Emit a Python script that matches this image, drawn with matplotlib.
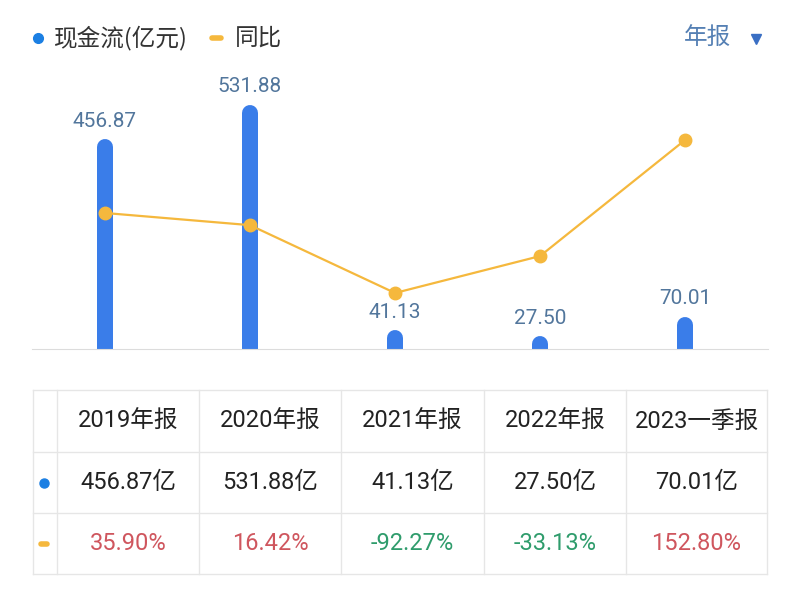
import matplotlib.pyplot as plt

plt.rcParams['font.family'] = ['Roboto', 'Noto Sans CJK SC', 'DejaVu Sans']

# data
periods = ['2019年报', '2020年报', '2021年报', '2022年报', '2023一季报']
cash_flow = [456.87, 531.88, 41.13, 27.50, 70.01]   # 亿元
yoy = [35.90, 16.42, -92.27, -33.13, 152.80]        # %

blue = '#3a7de9'
dot_blue = '#1b7fe3'
orange = '#f5b83d'
label_col = '#52769c'
grid_col = '#e6e6e6'
red = '#cf565e'
green = '#2f9c6c'

fig = plt.figure(figsize=(8, 6), dpi=100)

# chart area (pixel layout: x 32..768, y 60..349)
ax = fig.add_axes([32 / 800, 1 - 349 / 600, 736 / 800, 289 / 600])
x = list(range(len(periods)))
ax.set_xlim(-0.503, 4.572)
ymax = 630
ax.set_ylim(0, ymax)

# bars with rounded tops: thick vertical lines with round caps
bar_px = 16
half = bar_px / 2 * ymax / 289
ax.vlines(x, 0, [max(v - half, 0) for v in cash_flow], colors=blue,
          linewidth=bar_px * 0.72, capstyle='round')
for i, v in enumerate(cash_flow):
    ax.annotate(f'{v:.2f}', (i, v), xytext=(0, 13), textcoords='offset points',
                ha='center', va='center', fontsize=15, color=label_col)

for s in ['top', 'left', 'right']:
    ax.spines[s].set_visible(False)
ax.spines['bottom'].set_color('#dcdcdc')
ax.set_xticks([])
ax.set_yticks([])
ax.patch.set_alpha(0)

ax2 = ax.twinx()
ax2.set_ylim(-182, 281)
ax2.plot(x, yoy, color=orange, lw=1.6, marker='o', ms=9, mfc=orange, mec=orange)
ax2.axis('off')

# header + table drawn in pixel coordinates
tab = fig.add_axes([0, 0, 1, 1], zorder=-1)
tab.set_xlim(0, 800)
tab.set_ylim(600, 0)
tab.axis('off')

cjk = ['Noto Sans CJK SC', 'DejaVu Sans']
tab.plot(38, 38, 'o', ms=7, color=dot_blue)
tab.text(54, 38, '现金流(亿元)', va='center', fontsize=17, color='#333333', family=cjk)
tab.plot([212, 221], [38, 38], lw=4, color=orange, solid_capstyle='round')
tab.text(235, 38, '同比', va='center', fontsize=17, color='#333333', family=cjk)
tab.text(684, 38, '年报', va='center', fontsize=17, color='#5580b4', family=cjk)
tab.plot(756, 39, marker='v', ms=6.5, color='#3a6fc4', linestyle='none')

row_lines = [390, 452, 513, 574]
col_lines = [33, 57, 199, 341, 484, 626, 767]
for yl in row_lines:
    tab.plot([33, 767], [yl, yl], color=grid_col, lw=1)
for xl in col_lines:
    tab.plot([xl, xl], [390, 574], color=grid_col, lw=1)

row_y = [(row_lines[k] + row_lines[k + 1]) / 2 for k in range(3)]
for i, p in enumerate(periods):
    cx = (col_lines[i + 1] + col_lines[i + 2]) / 2
    tab.text(cx, row_y[0], p, ha='center', va='center', fontsize=17, color='#222222')
    tab.text(cx, row_y[1], f'{cash_flow[i]:.2f}亿', ha='center', va='center',
             fontsize=17, color='#222222')
    tab.text(cx, row_y[2], f'{yoy[i]:.2f}%', ha='center', va='center',
             fontsize=17, color=red if yoy[i] >= 0 else green)

tab.plot(44, row_y[1], 'o', ms=6.5, color=dot_blue)
tab.plot([41, 47], [row_y[2], row_y[2]], lw=4, color=orange, solid_capstyle='round')

fig.savefig('out.png', dpi=100)
